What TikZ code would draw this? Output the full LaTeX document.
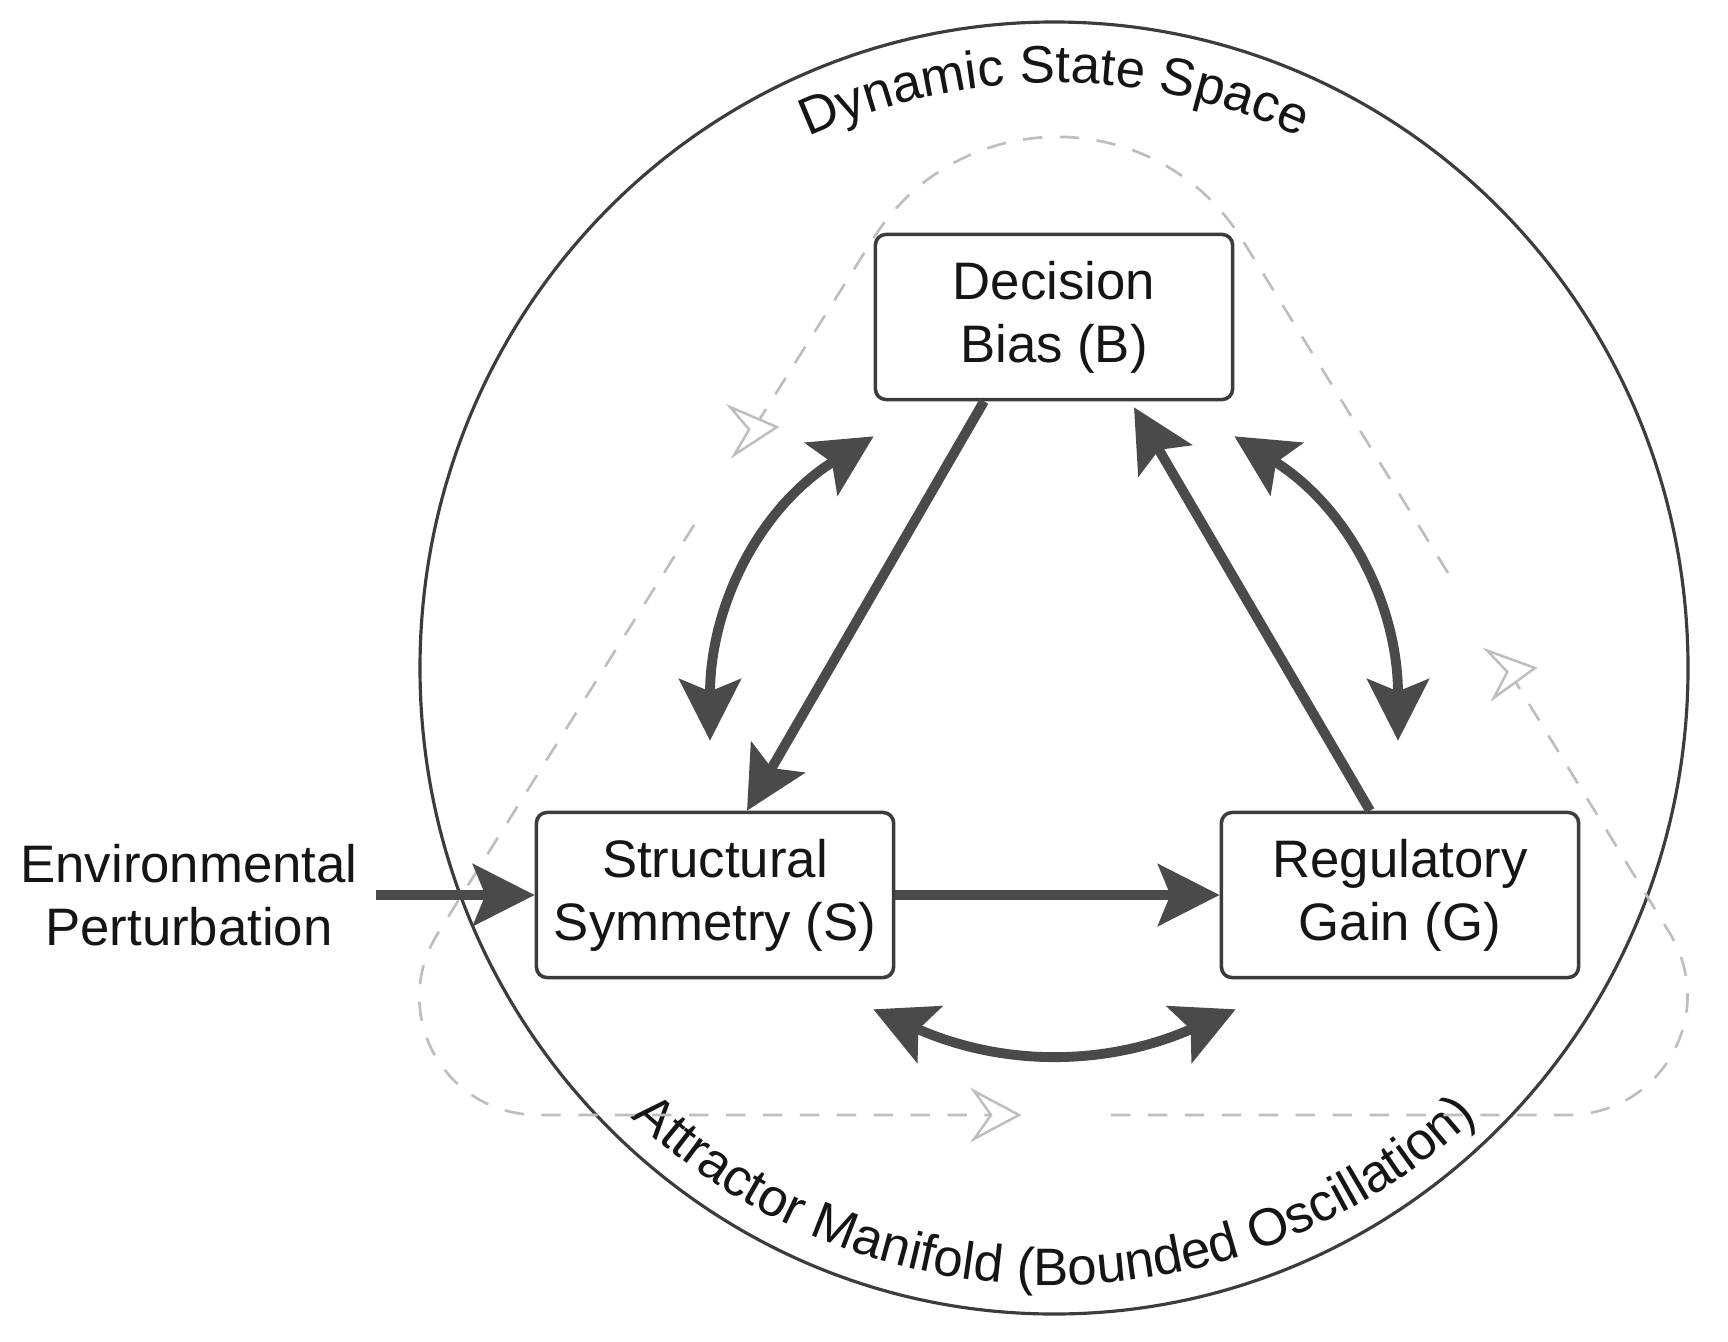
\documentclass[tikz,border=0pt]{standalone}
\usepackage{fontspec}
\setmainfont{Liberation Sans}
\usepackage{tikz}
\usetikzlibrary{arrows.meta,decorations.text}
\definecolor{inkgrey}{HTML}{4A4A4A}
\definecolor{rimgrey}{HTML}{3C3C3C}
\definecolor{ghostgrey}{HTML}{BEBEBE}
\definecolor{labelink}{HTML}{151515}
\newcommand{\diagfont}{\fontsize{15pt}{18pt}\selectfont}
\tikzset{
  statebox/.style={draw=rimgrey,fill=white,line width=1pt,rounded corners=3pt,
    minimum width=3.57cm,minimum height=1.65cm,align=center,text=labelink,font=\diagfont},
  envtext/.style={align=center,text=labelink,font=\diagfont,inner sep=5pt},
  flowarrow/.style={->,line width=2.8pt,color=inkgrey},
  swingarrow/.style={<->,line width=2.8pt,color=inkgrey},
  spacerim/.style={draw=rimgrey,line width=0.9pt},
  manifold/.style={ghostgrey,line width=0.75pt,dash pattern=on 5.5pt off 5pt},
  ghosttip/.pic={\draw[ghostgrey,line width=0.7pt,fill=white,line join=miter]
    (0,0)--(-45,24)--(-28,0)--(-45,-24)--cycle;},
  >={Stealth[length=17.5pt,width=17.5pt,inset=3.5pt]}
}

\begin{document}
\begin{tikzpicture}[x=0.01cm,y=0.01cm]
  \useasboundingbox (0,0) rectangle (1728,1341);
  \fill[white] (0,0) rectangle (1728,1341);
  \draw[spacerim] (1054,673) ellipse [x radius=634,y radius=646];
  \path[decorate,decoration={text along path,text align=center,text color=labelink,
      text={|\diagfont|Dynamic State Space}}]
    (1054,673) ++(150:585) arc[start angle=150,end angle=30,radius=585];
  \path[decorate,decoration={text along path,text align=center,text color=labelink,
      text={|\diagfont|Attractor Manifold (Bounded Oscillation)}}]
    (1054,673) ++(200:617) arc[start angle=200,end angle=340,radius=617];
  % bounded loop
  \draw[manifold] (1448,768)--(1243,1100)
    .. controls (1158,1238) and (959,1239) .. (873,1102)--(756,916);
  \draw[manifold] (694,816)--(438,408)
    .. controls (388,328) and (444,226) .. (539,226)--(991,226);
  \draw[manifold] (1111,226)--(1567,226)
    .. controls (1662,226) and (1719,328) .. (1669,409)--(1507,673);
  \pic[rotate=5] at (777,914) {ghosttip};
  \pic at (1019,226) {ghosttip};
  \pic[rotate=8] at (1535,673) {ghosttip};
  \node[statebox] (B) at (1054,1024) {Decision\\Bias (B)};
  \node[statebox] (S) at (715,446) {Structural\\Symmetry (S)};
  \node[statebox] (G) at (1400,446) {Regulatory\\Gain (G)};
  \node[envtext] (env) at (189,446) {Environmental\\Perturbation};
  \coordinate (sbLow) at ([shift={(-5,70)}]S.north);
  \coordinate (sbHigh) at ([shift={(0,-35)}]B.south west);
  \coordinate (gbLow) at ([shift={(-2,70)}]G.north);
  \coordinate (gbHigh) at ([shift={(0,-35)}]B.south east);
  \coordinate (sgLeft) at ([shift={(-22,-30)}]S.south east);
  \coordinate (sgRight) at ([shift={(16,-30)}]G.south west);
  \draw[flowarrow] (env)--(S);
  \draw[flowarrow] (S)--(G);
  \draw[flowarrow] ([shift={(-70,0)}]B.south)--([shift={(32,0)}]S.north);
  \draw[flowarrow] ([shift={(-30,0)}]G.north)--([shift={(80,-6)}]B.south);
  \draw[swingarrow] (sbLow) to[out=90,in=212] (sbHigh);
  \draw[swingarrow] (gbLow) to[out=90,in=-32] (gbHigh);
  \draw[swingarrow] (sgLeft) to[out=-24,in=204] (sgRight);
  %\draw[manifold] (1054,673) circle (4);
\end{tikzpicture}
\end{document}
